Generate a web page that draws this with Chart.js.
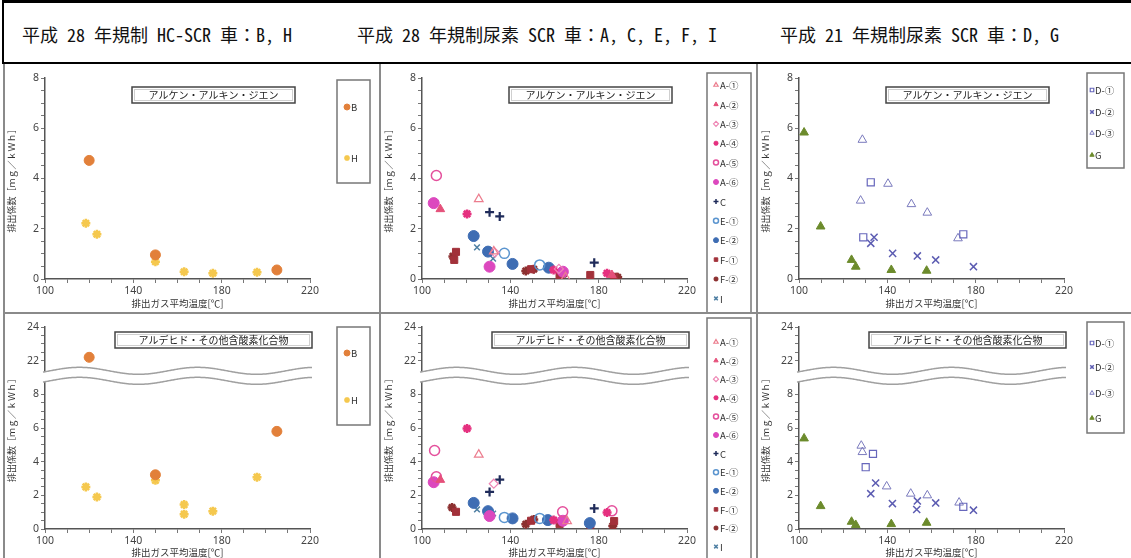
<!DOCTYPE html>
<html>
<head>
<meta charset="utf-8">
<script src="https://cdn.jsdelivr.net/npm/chart.js@4.4.1/dist/chart.umd.min.js"></script>
<style>
  body { margin: 0; background: #fff; }
  #page { position: relative; width: 1131px; height: 558px; overflow: hidden; background: #fff;
          font-family: "Noto Sans CJK JP", "Noto Sans", sans-serif; }
  #header { position: absolute; left: 2px; top: 0; width: 1140px; height: 64px; box-sizing: border-box;
            border: 2px solid #000; border-top-width: 3px; }
  .htxt { position: absolute; top: 19px; font-size: 18px; line-height: 24px; color: #111; white-space: nowrap;
          font-family: "Noto Sans Mono CJK JP", "Noto Sans CJK JP", sans-serif; }
  .panel { position: absolute; width: 377px; }
  .top { top: 65px; height: 248px; }
  .bot { top: 313px; height: 245px; }
  .vline { position: absolute; top: 64px; width: 2px; height: 494px; background: #8a8a8a; }
  .hline { position: absolute; left: 3px; top: 312px; width: 1128px; height: 2px; background: #8a8a8a; }
</style>
</head>
<body>
<div id="page">
  <div id="header">
    <span class="htxt" style="left:18px">平成 28 年規制 HC-SCR 車：B, H</span>
    <span class="htxt" style="left:353px">平成 28 年規制尿素 SCR 車：A, C, E, F, I</span>
    <span class="htxt" style="left:776px">平成 21 年規制尿素 SCR 車：D, G</span>
  </div>
  <div class="panel top" style="left:0"><canvas id="c1"></canvas></div>
  <div class="panel top" style="left:377px"><canvas id="c2"></canvas></div>
  <div class="panel top" style="left:754px"><canvas id="c3"></canvas></div>
  <div class="panel bot" style="left:0"><canvas id="c4"></canvas></div>
  <div class="panel bot" style="left:377px"><canvas id="c5"></canvas></div>
  <div class="panel bot" style="left:754px"><canvas id="c6"></canvas></div>
  <div class="vline" style="left:3px"></div>
  <div class="vline" style="left:379px"></div>
  <div class="vline" style="left:756px"></div>
  <div class="hline"></div>
</div>
<script>
// axis ticks
const xTicks = [100, 140, 180, 220];
const yTicksTop = [0, 2, 4, 6, 8];
const yTicksLow = [0, 2, 4, 6, 8];
const yTicksHigh = [22, 24];

// titles
const titleAlkene = "アルケン・アルキン・ジエン";
const titleAldehyde = "アルデヒド・その他含酸素化合物";
const yTitle = "排出係数［ｍｇ／ｋＷｈ］";
const xTitle = "排出ガス平均温度[℃]";

// [exhaust temp, emission factor] — alkene/alkyne/diene
const B_alk = [[120, 4.72], [150, 0.96], [205, 0.36]];
const H_alk = [[118.5, 2.22], [123.5, 1.78], [150, 0.69], [163, 0.29], [176, 0.23], [196, 0.27]];

const A1_alk = [[125.7, 3.18], [132.5, 1.1], [165, 0.07]];
const A2_alk = [[108.3, 2.78], [186, 0.16]];
const A3_alk = [[133, 1.05], [162, 0.4]];
const A4_alk = [[120.4, 2.59], [159.6, 0.36], [183.8, 0.23]];
const A5_alk = [[106.5, 4.12]];
const A6_alk = [[105.3, 3.02], [130.6, 0.49], [163.8, 0.29]];
const C_alk = [[130.6, 2.66], [135.2, 2.49], [178, 0.65]];
const E1_alk = [[137.3, 1.02], [153.3, 0.56]];
const E2_alk = [[123.4, 1.71], [129.9, 1.09], [141, 0.6], [157.4, 0.45]];
const F1_alk = [[115.4, 1.08], [114.6, 0.76], [149.4, 0.39], [162.3, 0.16], [176.2, 0.16], [187, 0.09]];
const F2_alk = [[114, 0.9], [147, 0.32], [150.6, 0.39], [164, 0.2], [188.6, 0.07]];
const I_alk = [[124.9, 1.26], [132.2, 0.81]];

const D1_alk = [[132.5, 3.85], [129.1, 1.66], [174.4, 1.78]];
const D2_alk = [[134, 1.66], [132.5, 1.42], [142.4, 1.02], [153.6, 0.92], [161.9, 0.76], [179, 0.49]];
const D3_alk = [[128.7, 5.54], [127.9, 3.12], [140.3, 3.79], [150.9, 2.98], [158.1, 2.64], [172, 1.62]];
const G_alk = [[102.3, 5.83], [109.8, 2.09], [123.8, 0.76], [125.7, 0.49], [141.8, 0.36], [157.8, 0.33]];

// aldehyde / other oxygenates
const B_ald = [[120, 22.2], [150, 3.22], [205, 5.8]];
const H_ald = [[118.5, 2.5], [123.5, 1.9], [150, 2.89], [163, 1.45], [163, 0.88], [176, 1.06], [196, 3.08]];

const A1_ald = [[125.7, 4.42], [165.7, 0.47]];
const A2_ald = [[108.3, 2.92]];
const A3_ald = [[132.5, 2.69]];
const A4_ald = [[120.4, 5.97], [159.6, 0.53], [183.8, 0.98]];
const A5_ald = [[105.7, 4.66], [106.5, 3.1], [163.7, 1.02], [186, 1.08]];
const A6_ald = [[105.3, 2.78], [130.6, 0.77], [163.8, 0.49]];
const C_ald = [[130.6, 2.2], [135.2, 2.93], [178, 1.22]];
const E1_ald = [[137.3, 0.69], [153.3, 0.63]];
const E2_ald = [[123.4, 1.55], [129.9, 1.06], [141, 0.63], [157, 0.53], [176, 0.35]];
const F1_ald = [[115.4, 1.02], [149.4, 0.49], [162.3, 0.29], [176.2, 0.24], [187, 0.47]];
const F2_ald = [[113.6, 1.28], [147, 0.28], [150.6, 0.57], [186.4, 0.18]];
const I_ald = [[124.9, 1.16], [132.2, 0.92]];

const D1_ald = [[133.5, 4.46], [130.2, 3.67], [174.4, 1.32]];
const D2_ald = [[134.7, 2.73], [132.5, 2.1], [142.3, 1.51], [153.6, 1.67], [153.3, 1.16], [161.9, 1.55], [179, 1.12]];
const D3_ald = [[128.2, 4.95], [128.7, 4.57], [139.7, 2.53], [150.6, 2.1], [158.1, 2.0], [172.5, 1.57]];
const G_ald = [[102.3, 5.38], [109.8, 1.36], [123.8, 0.43], [125.7, 0.24], [141.8, 0.29], [157.8, 0.37]];

// marker styles for each vehicle
const NONE = 'rgba(0,0,0,0)';
const styles = {
    'B':   { ps: 'circle', c: '#E2803A', fill: true, r: 5, bw: 1 },
    'H':   { ps: 'star', c: '#F5C84E', fill: true, r: 4.5, bw: 2.5 },
    'A-①': { ps: 'triangle', c: '#EC7D8E', fill: false, r: 5, bw: 1.2 },
    'A-②': { ps: 'triangle', c: '#E5507A', fill: true, r: 5, bw: 1 },
    'A-③': { ps: 'rectRot', c: '#EE86B4', fill: false, r: 4.5, bw: 1.2 },
    'A-④': { ps: 'star', c: '#E5307F', fill: true, r: 4.5, bw: 2.5 },
    'A-⑤': { ps: 'circle', c: '#E4509C', fill: false, r: 5, bw: 1.5 },
    'A-⑥': { ps: 'circle', c: '#DC48BE', fill: true, r: 5.5, bw: 1 },
    'C':   { ps: 'cross', c: '#1F2B5A', fill: true, r: 4.5, bw: 2.2 },
    'E-①': { ps: 'circle', c: '#5B95CF', fill: false, r: 5, bw: 1.5 },
    'E-②': { ps: 'circle', c: '#3E6DB3', fill: true, r: 5.5, bw: 1 },
    'F-①': { ps: 'rect', c: '#A2313A', fill: true, r: 5, bw: 1 },
    'F-②': { ps: 'star', c: '#8C3030', fill: true, r: 4.5, bw: 2.5 },
    'I':   { ps: 'crossRot', c: '#4E7FA3', fill: false, r: 4, bw: 1.5 },
    'D-①': { ps: 'rect', c: '#6767BC', fill: false, r: 5, bw: 1.2 },
    'D-②': { ps: 'crossRot', c: '#5C5CB2', fill: false, r: 5, bw: 1.5 },
    'D-③': { ps: 'triangle', c: '#7A7ABD', fill: false, r: 5, bw: 1 },
    'G':   { ps: 'triangle', c: '#6C8B2C', fill: true, r: 5, bw: 1 }
};

const BRK = 8, SHIFT = 12;          // broken axis: values above 8 are drawn 12 lower
const tickColor = '#444';
const axisColor = '#555';

function pts(arr, broken) {
    return arr.map(p => ({ x: p[0], y: broken && p[1] > BRK ? p[1] - SHIFT : p[1] }));
}

function makeDatasets(list, broken) {
    return list.map(([label, arr]) => {
        const s = styles[label];
        return {
            label: label,
            data: pts(arr, broken),
            pointStyle: s.ps,
            pointRadius: s.r,
            pointHoverRadius: s.r,
            pointBorderWidth: s.bw,
            pointBorderColor: s.c,
            pointBackgroundColor: s.fill ? s.c : NONE,
            showLine: false
        };
    });
}

// panel decoration: title box, axis break, legend box
const decoPlugin = {
    id: 'deco',
    afterDraw(chart, args, opts) {
        const ctx = chart.ctx;
        const area = chart.chartArea;
        ctx.save();

        // axis break band
        if (opts.broken) {
            const yc = chart.scales.y.getPixelForValue(9.1);
            const amp = 3.5, per = 118, gap = 10;
            const x0 = area.left - 2, x1 = area.right + 2;
            const wave = (x, off) => yc + off - amp * Math.sin((x - area.left - 5) / per * 2 * Math.PI);
            ctx.beginPath();
            for (let x = x0; x <= x1; x++) ctx.lineTo(x, wave(x, -gap / 2));
            for (let x = x1; x >= x0; x--) ctx.lineTo(x, wave(x, gap / 2));
            ctx.closePath();
            ctx.fillStyle = '#fff';
            ctx.fill();
            ctx.strokeStyle = '#a0a0a0';
            ctx.lineWidth = 1.5;
            [-gap / 2, gap / 2].forEach(off => {
                ctx.beginPath();
                for (let x = x0; x <= x1; x++) ctx.lineTo(x, wave(x, off));
                ctx.stroke();
            });
        }

        // title box
        const t = opts.title;
        ctx.fillStyle = '#fff';
        ctx.fillRect(t.x, t.y, t.w, t.h);
        ctx.strokeStyle = '#cfcfcf';
        ctx.lineWidth = 1;
        ctx.strokeRect(t.x + 2.5, t.y + 2.5, t.w - 5, t.h - 5);
        ctx.strokeStyle = '#444';
        ctx.lineWidth = 1.5;
        ctx.strokeRect(t.x, t.y, t.w, t.h);
        ctx.fillStyle = '#222';
        ctx.font = '10px "Noto Sans CJK JP"';
        ctx.textAlign = 'center';
        ctx.textBaseline = 'middle';
        ctx.fillText(t.text, t.x + t.w / 2, t.y + t.h / 2 + 0.5);

        // legend box
        const L = opts.legend;
        ctx.strokeStyle = '#777';
        ctx.lineWidth = 1.5;
        ctx.strokeRect(L.x, L.y, L.w, L.h);
        ctx.font = '9.5px "Noto Sans CJK JP"';
        ctx.textAlign = 'left';
        chart.data.datasets.forEach((ds, i) => {
            const s = styles[ds.label];
            const y = L.items[i];
            ctx.save();
            ctx.fillStyle = s.fill ? s.c : NONE;
            ctx.strokeStyle = s.c;
            ctx.lineWidth = Math.min(s.bw, 1.5);
            Chart.helpers.drawPoint(ctx, { pointStyle: s.ps, radius: L.mr, borderWidth: Math.min(s.bw, 1.5), rotation: 0 }, L.x + L.mx, y);
            ctx.restore();
            ctx.fillStyle = '#333';
            ctx.fillText(ds.label, L.x + L.tx, y + 0.5);
        });
        ctx.restore();
    }
};

function makeChart(id, list, broken, title, legend) {
    const h = broken ? 245 : 248;
    const plotBottom = broken ? 216 : 214;
    const yScale = broken ? {
        type: 'linear', min: 0, max: 12,
        afterBuildTicks: s => {
            const v = [];
            for (let k = 0; k <= BRK; k += 0.5) v.push({ value: k });
            for (let k = yTicksHigh[0] - SHIFT; k <= yTicksHigh[1] - SHIFT; k += 0.5) v.push({ value: k });
            s.ticks = v;
        },
        ticks: {
            autoSkip: false,
            callback: v => {
                if (v <= BRK) return yTicksLow.includes(v) ? String(v) : '';
                return yTicksHigh.includes(v + SHIFT) ? String(v + SHIFT) : '';
            }
        }
    } : {
        type: 'linear', min: 0, max: 8,
        ticks: {
            stepSize: 0.5, autoSkip: false,
            callback: v => yTicksTop.includes(v) ? String(v) : ''
        }
    };
    Object.assign(yScale.ticks, { color: tickColor, padding: 2, font: { family: 'Noto Sans', size: 10.5 } });
    yScale.afterFit = s => { s.width = 41; };
    yScale.grid = { drawOnChartArea: false, drawTicks: true, tickLength: 4, color: '#777', lineWidth: 1 };
    yScale.border = { color: axisColor, width: 1.5 };
    yScale.title = { display: true, text: yTitle, color: '#333',
                     font: { family: 'Noto Sans CJK JP', size: 9 }, padding: { top: 2, bottom: 0 } };

    const xScale = {
        type: 'linear', min: 100, max: 220,
        afterFit: s => { s.height = h - plotBottom; },
        ticks: {
            stepSize: 10, autoSkip: false, maxRotation: 0, color: tickColor, padding: 1.5,
            font: { family: 'Noto Sans', size: 10.5 },
            callback: v => xTicks.includes(v) ? String(v) : ''
        },
        grid: { drawOnChartArea: false, drawTicks: true, tickLength: 4, color: '#777', lineWidth: 1 },
        border: { color: axisColor, width: 1.5 },
        title: { display: true, text: xTitle, color: '#333',
                 font: { family: 'Noto Sans CJK JP', size: 9.5 }, padding: { top: 0, bottom: broken ? 0 : 4.3 } }
    };

    return new Chart(document.getElementById(id), {
        type: 'scatter',
        data: { datasets: makeDatasets(list, broken) },
        options: {
            responsive: false,
            animation: false,
            devicePixelRatio: 1,
            layout: { padding: { left: 4, top: broken ? 14 : 13, right: 67, bottom: 0 } },
            scales: { x: xScale, y: yScale },
            plugins: {
                legend: { display: false },
                tooltip: { enabled: false },
                deco: { broken: broken, title: title, legend: legend }
            }
        },
        plugins: [decoPlugin]
    });
}

function sizeCanvas(id, h) {
    const c = document.getElementById(id);
    c.width = 377; c.height = h;
    c.style.width = '377px'; c.style.height = h + 'px';
}
['c1', 'c2', 'c3'].forEach(id => sizeCanvas(id, 248));
['c4', 'c5', 'c6'].forEach(id => sizeCanvas(id, 245));

const step = (start, d, n) => Array.from({ length: n }, (_, i) => start + i * d);

const tTop = { text: titleAlkene, x: 132, y: 22, w: 163, h: 16 };
const tBot = { text: titleAldehyde, x: 115, y: 19, w: 197, h: 16 };

makeChart('c1', [['B', B_alk], ['H', H_alk]], false, tTop,
    { x: 337, y: 15, w: 33, h: 103, items: [42, 93], mx: 10, tx: 14, mr: 3 });
makeChart('c2', [['A-①', A1_alk], ['A-②', A2_alk], ['A-③', A3_alk], ['A-④', A4_alk], ['A-⑤', A5_alk], ['A-⑥', A6_alk],
                 ['C', C_alk], ['E-①', E1_alk], ['E-②', E2_alk], ['F-①', F1_alk], ['F-②', F2_alk], ['I', I_alk]], false, tTop,
    { x: 330, y: 8, w: 44, h: 245, items: step(20, 19.4, 12), mx: 9, tx: 13, mr: 2.5 });
makeChart('c3', [['D-①', D1_alk], ['D-②', D2_alk], ['D-③', D3_alk], ['G', G_alk]], false, tTop,
    { x: 333, y: 8, w: 37, h: 95, items: [25, 47, 68, 90], mx: 5, tx: 8, mr: 2.5 });
makeChart('c4', [['B', B_ald], ['H', H_ald]], true, tBot,
    { x: 337, y: 14, w: 33, h: 98, items: [40, 87], mx: 10, tx: 14, mr: 3 });
makeChart('c5', [['A-①', A1_ald], ['A-②', A2_ald], ['A-③', A3_ald], ['A-④', A4_ald], ['A-⑤', A5_ald], ['A-⑥', A6_ald],
                 ['C', C_ald], ['E-①', E1_ald], ['E-②', E2_ald], ['F-①', F1_ald], ['F-②', F2_ald], ['I', I_ald]], true, tBot,
    { x: 330, y: 5, w: 44, h: 250, items: step(29, 18.6, 12), mx: 9, tx: 13, mr: 2.5 });
makeChart('c6', [['D-①', D1_ald], ['D-②', D2_ald], ['D-③', D3_ald], ['G', G_ald]], true, tBot,
    { x: 333, y: 9, w: 37, h: 111, items: [30, 54, 80, 105], mx: 5, tx: 8, mr: 2.5 });
</script>
</body>
</html>
